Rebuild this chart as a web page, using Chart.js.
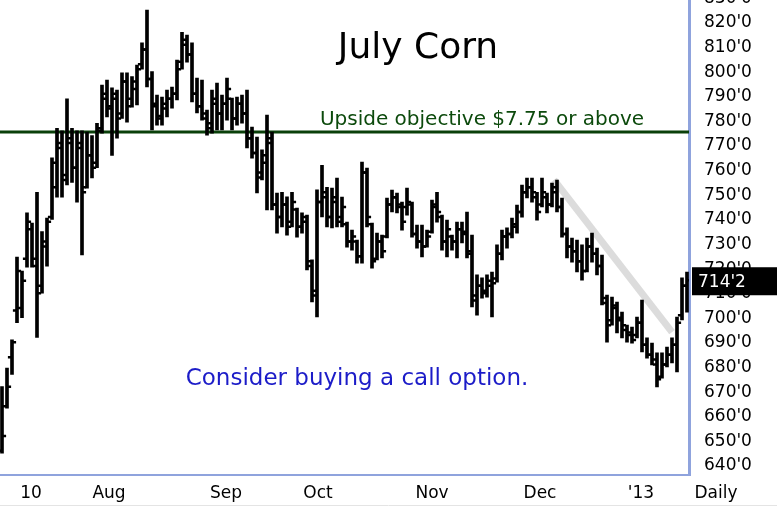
<!DOCTYPE html>
<html>
<head>
<meta charset="utf-8">
<script src="https://cdn.jsdelivr.net/npm/chart.js@4/dist/chart.umd.min.js"></script>
<style>
  html, body { margin: 0; padding: 0; background: #fff; overflow: hidden; }
  #wrap { position: relative; width: 777px; height: 509px; overflow: hidden; }
  #myChart { position: absolute; left: 0; top: -20px; }
</style>
</head>
<body>
<div id="wrap"><canvas id="myChart" width="777" height="529"></canvas></div>
<script>
// daily bars, July 2012 -> mid January 2013 (cents per bushel)
const highs = [
  671, 678.6, 690, 723.7, 718, 741.6, 737.5, 750, 734, 739.5,
  764, 776, 775, 788, 776, 775, 775, 774.5, 773, 778,
  793.6, 795.6, 792.4, 791.5, 798.5, 798.5, 797, 801.7, 810.7, 824,
  799, 789.5, 788.7, 791.5, 792.8, 803.7, 815, 813.9, 810.7, 796.4,
  795.6, 783.4, 791.5, 794.4, 789.5, 796.4, 788.3, 788.7, 789.5, 791.5,
  776.5, 772.4, 767.2, 781.4, 774.5, 749.7, 750, 748.1, 750, 743.6,
  741.6, 740.7, 722.5, 751, 761, 752, 751.7, 755.8, 748, 737.9,
  734.6, 730.6, 762.3, 759.8, 737.5, 733.4, 732.6, 747.6, 750.9, 749.7,
  746, 751.7, 746, 736.7, 736.7, 734.6, 746.8, 750, 740.7, 738.7,
  732.6, 737.9, 737.9, 742, 732.6, 716.4, 715.2, 716.4, 717.6, 728.6,
  734.6, 735.5, 739.5, 744.8, 752.9, 755.8, 755.8, 750, 755.8, 749.7,
  753.7, 755, 747.6, 735.5, 731.4, 730.6, 728.6, 731.4, 733.4, 727.3,
  724.5, 708.2, 707.4, 705.4, 701.3, 696, 695.2, 699.3, 706.2, 690.8,
  688.7, 684.7, 684.7, 687.1, 690.8, 699.3, 715.2, 717.6
];
const lows = [
  644, 662.3, 676, 697, 699, 719.6, 719.6, 691, 709, 720,
  739, 748, 748, 753, 754, 746, 724.5, 751.7, 755.8, 760,
  774, 780.6, 765, 772, 780, 778.5, 784.6, 785.5, 800, 792.8,
  775.3, 777.3, 777.3, 780.6, 784.2, 787.5, 800, 802.9, 786.7, 782.2,
  779.3, 773.2, 774, 775.3, 775.3, 779.3, 775.3, 777.3, 778.1, 768,
  763.9, 749.7, 755, 742.8, 742.8, 733.4, 735.9, 732.6, 735.9, 731.8,
  733.4, 718.4, 705.4, 699.3, 740, 735.9, 735.5, 735.9, 735.9, 727.7,
  726.5, 721.2, 721.2, 735.9, 719.2, 722.5, 723.3, 731.4, 742, 741.6,
  734.6, 740.7, 731.8, 727.3, 723.7, 727.7, 733.4, 737.9, 726.5, 723.7,
  726.5, 723.3, 729.4, 723.3, 703.4, 700.1, 707, 707.4, 699.3, 713.5,
  722.5, 727.3, 731.4, 733.4, 739.9, 747.7, 746, 738.7, 744, 741.6,
  744, 742, 731.8, 723.3, 721.6, 717.6, 714.3, 717.6, 721.6, 716.4,
  704.2, 689.1, 696, 692.8, 690.8, 689.1, 688.7, 690.8, 685.1, 682.6,
  679.8, 670.9, 674.5, 679, 680.6, 677, 698.1, 701.3
];
const opens = [
  645, 663, 683, 702, 703, 723, 735, 720, 712, 728,
  740, 752, 768, 757, 770, 760, 768, 752, 765, 762,
  776, 788, 785, 788, 782, 795, 788, 792, 802, 808,
  796, 785, 780, 784, 788, 790, 803, 810, 806, 790,
  785, 780, 778, 786, 782, 786, 788, 780, 786, 782,
  772, 766, 758, 765, 770, 745, 740, 745, 738, 743,
  736, 738, 720, 708, 746, 748, 740, 746, 740, 737,
  730, 730, 724, 758, 737, 723, 730, 732, 745, 748,
  745, 744, 745, 733, 730, 728, 734, 745, 740, 730,
  732, 730, 735, 734, 726, 706, 712, 710, 712, 715,
  725, 732, 733, 736, 742, 750, 752, 748, 745, 748,
  745, 752, 744, 733, 728, 726, 722, 718, 728, 725,
  720, 705, 698, 703, 698, 694, 692, 692, 697, 688,
  684, 680, 675, 680, 684, 688, 700, 712
];
const closes = [
  651, 671, 689, 718, 714, 738, 723, 709, 730, 738,
  762, 770, 755, 772, 760, 770, 750, 765, 760, 775,
  790, 784, 790, 780, 795, 785, 795, 800, 808, 796,
  786, 781, 786, 788, 790, 800, 812, 806, 790, 785,
  782, 776, 788, 782, 786, 792, 780, 786, 782, 772,
  766, 756, 762, 772, 745, 740, 745, 736, 746, 736,
  740, 722, 710, 746, 750, 740, 748, 738, 744, 730,
  732, 724, 758, 740, 722, 730, 726, 745, 748, 744,
  738, 746, 733, 730, 728, 732, 744, 742, 730, 735,
  730, 735, 733, 725, 708, 712, 709, 714, 713, 725,
  732, 733, 737, 742, 750, 752, 750, 742, 750, 745,
  750, 744, 733, 728, 726, 722, 718, 728, 725, 720,
  707, 696, 704, 699, 696, 693, 690, 697, 688, 684,
  682, 674, 680, 684, 688, 697, 712, 714.25
];
const monthLabels = ['10', 'Aug', 'Sep', 'Oct', 'Nov', 'Dec', "'13"];
const monthPos = [5.8, 21.4, 44.8, 63.2, 86, 107.6, 127.8];
const priceTicks = [640, 650, 660, 670, 680, 690, 700, 710, 720, 730, 740, 750, 760, 770, 780, 790, 800, 810, 820, 830];
const objective = 774.5;
const trendX = [110.4, 134];
const trendY = [755, 693.2];
const lastPrice = 714.25;

const OFF = 20; // canvas sits 20px above the page top
const FONT = '"DejaVu Sans", Verdana, sans-serif';

function fmt(v) {
  return Math.floor(v) + "'" + Math.round((v - Math.floor(v)) * 8);
}

const idx = highs.map((h, i) => i);

const overlay = {
  id: 'overlay',
  afterDraw(chart) {
    const {ctx, chartArea} = chart;
    const y = chart.scales.y;
    ctx.save();
    ctx.textAlign = 'center';
    ctx.textBaseline = 'middle';

    ctx.fillStyle = '#000';
    ctx.font = '36px ' + FONT;
    ctx.fillText('July Corn', 418, 49 + OFF);

    ctx.fillStyle = '#0c4a0c';
    ctx.font = '20px ' + FONT;
    ctx.fillText('Upside objective $7.75 or above', 482, y.getPixelForValue(objective) - 12);

    ctx.fillStyle = '#1c1cc8';
    ctx.font = '23px ' + FONT;
    ctx.fillText('Consider buying a call option.', 357, 379 + OFF);

    ctx.fillStyle = '#000';
    ctx.font = '17px ' + FONT;
    ctx.fillText('Daily', 716, 494 + OFF);

    // last price box on the price axis
    const py = y.getPixelForValue(lastPrice);
    ctx.fillStyle = '#000';
    ctx.fillRect(chartArea.right + 3, py - 13, 777 - chartArea.right - 3, 28);
    ctx.fillStyle = '#fff';
    ctx.textAlign = 'left';
    ctx.fillText(fmt(lastPrice), chartArea.right + 9, py + 2);

    ctx.strokeStyle = '#e4e4e4';
    ctx.lineWidth = 1;
    ctx.beginPath();
    ctx.moveTo(0, 505.5 + OFF);
    ctx.lineTo(777, 505.5 + OFF);
    ctx.stroke();
    ctx.restore();
  }
};

const data = {
  datasets: [
    {
      type: 'line',
      data: trendX.map((x, i) => ({x: x, y: trendY[i]})),
      borderColor: '#dcdcdc',
      borderWidth: 7,
      pointRadius: 0,
      order: 10
    },
    {
      type: 'line',
      data: [{x: -0.4, y: objective}, {x: 137.4, y: objective}],
      borderColor: '#0a400a',
      borderWidth: 3,
      pointRadius: 0,
      order: 9
    },
    {
      type: 'bar',
      data: idx.map(i => ({x: i, y: [lows[i], highs[i]]})),
      backgroundColor: '#000',
      barThickness: 3,
      grouped: false,
      order: 2
    },
    {
      type: 'line',
      data: idx.map(i => ({x: i - 0.5, y: opens[i]})),
      showLine: false,
      pointStyle: 'line',
      pointRadius: 1.6,
      borderColor: '#000',
      borderWidth: 2.5,
      order: 1
    },
    {
      type: 'line',
      data: idx.map(i => ({x: i + 0.5, y: closes[i]})),
      showLine: false,
      pointStyle: 'line',
      pointRadius: 1.6,
      borderColor: '#000',
      borderWidth: 2.5,
      order: 1
    }
  ]
};

const config = {
  type: 'bar',
  data: data,
  plugins: [overlay],
  options: {
    responsive: false,
    animation: false,
    devicePixelRatio: 1,
    layout: { autoPadding: false, padding: { top: 10.5, left: 0, right: 0, bottom: 0 } },
    plugins: { legend: { display: false }, tooltip: { enabled: false } },
    scales: {
      x: {
        type: 'linear',
        min: -0.4,
        max: 137.4,
        offset: false,
        grid: { display: false },
        border: { display: true, color: '#8fa3dd', width: 2 },
        afterBuildTicks: s => { s.ticks = monthPos.map(v => ({value: v})); },
        afterFit: s => { s.height = 34; s.paddingLeft = 0; s.paddingRight = 0; },
        ticks: {
          autoSkip: false,
          maxRotation: 0,
          padding: 0,
          color: '#000',
          font: { family: FONT, size: 17 },
          callback: (v, i) => monthLabels[i]
        }
      },
      y: {
        position: 'right',
        min: 635.1,
        max: 832,
        grid: { display: false },
        border: { display: true, color: '#8fa3dd', width: 3 },
        afterBuildTicks: s => { s.ticks = priceTicks.map(v => ({value: v})); },
        afterFit: s => { s.width = 88; s.paddingTop = 0; s.paddingBottom = 0; },
        ticks: {
          padding: 7,
          labelOffset: 3,
          color: '#000',
          font: { family: FONT, size: 17 },
          callback: v => fmt(v)
        }
      }
    }
  }
};

const myChart = new Chart(document.getElementById('myChart'), config);
</script>
</body>
</html>
